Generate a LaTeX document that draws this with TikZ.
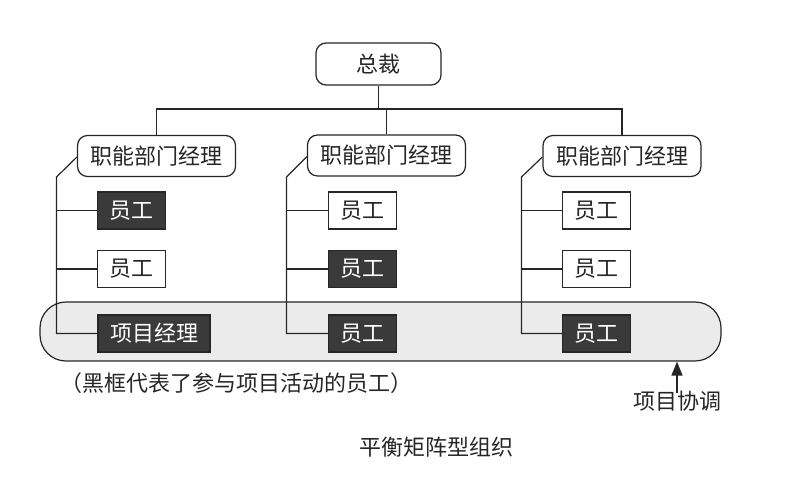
\documentclass[tikz,border=0pt]{standalone}
\usepackage{fontspec}
\setmainfont{Noto Sans CJK SC}
\usetikzlibrary{arrows.meta}
\definecolor{ink}{HTML}{262626}
\definecolor{darkbox}{HTML}{3A3A3A}
\definecolor{bandfill}{HTML}{EBEBEB}
\begin{document}
\begin{tikzpicture}[x=1pt,y=-1pt,line width=1.2pt,draw=ink,
  font=\fontsize{22}{26}\selectfont,
  topbox/.style={draw=ink,fill=white,rounded corners=10pt,minimum width=125pt,minimum height=42pt,inner sep=0pt,text=ink},
  mgr/.style={draw=ink,fill=white,rounded corners=10pt,minimum width=158pt,minimum height=41pt,inner sep=0pt,text=ink},
  staffw/.style={draw=ink,fill=white,minimum width=68pt,minimum height=37pt,inner sep=0pt,text=ink},
  staffd/.style={draw=ink,fill=darkbox,minimum width=68pt,minimum height=37pt,inner sep=0pt,text=white},
  link/.style={draw=ink,line width=1.2pt},
  lbl/.style={text=ink,inner sep=0pt}]
\useasboundingbox (0,0) rectangle (808,493);
% project band
\node (band) [draw=ink,fill=bandfill,rounded corners=26pt,minimum width=681pt,minimum height=59pt,inner sep=0pt] at (380.5,331.5) {};
% top
\node (ceo) [topbox] at (378.5,64) {总裁};
\node (m1) [mgr] at (156.5,156) {职能部门经理};
\node (m2) [mgr] at (386.5,155.5) {职能部门经理};
\node (m3) [mgr] at (622,156) {职能部门经理};
\coordinate (hb) at (378.5,109);
\draw[link] (ceo.south) -- (hb);
\draw[link] (m1.north) |- (hb) -| (m3.north);
\draw[link] (m2.north) -- (m2.north |- hb);
% column 1
\node (s11) [staffd] at (131.5,210.5) {员工};
\node (s12) [staffw] at (131.5,269) {员工};
\node (s13) [staffd,minimum width=112pt] at (154,333.5) {项目经理};
\coordinate (c1a) at (56.5,177);
\coordinate (c1b) at (56.5,333.5);
\draw[link] (m1.west) ++(0,1) -- (c1a) -- (c1b) -- (s13.west);
\draw[link] (s11.west) -- (s11.west -| c1a);
\draw[link] (s12.west) -- (s12.west -| c1a);
% column 2
\node (s21) [staffw] at (362.5,210.5) {员工};
\node (s22) [staffd] at (362.5,269) {员工};
\node (s23) [staffd] at (362.5,333.5) {员工};
\coordinate (c2a) at (286.5,177);
\coordinate (c2b) at (286.5,333.5);
\draw[link] (m2.west) ++(0,1) -- (c2a) -- (c2b) -- (s23.west);
\draw[link] (s21.west) -- (s21.west -| c2a);
\draw[link] (s22.west) -- (s22.west -| c2a);
% column 3
\node (s31) [staffw] at (596.5,210.5) {员工};
\node (s32) [staffw] at (596.5,269) {员工};
\node (s33) [staffd] at (596.5,333.5) {员工};
\coordinate (c3a) at (521.5,177);
\coordinate (c3b) at (521.5,333.5);
\draw[link] (m3.west) ++(0,1) -- (c3a) -- (c3b) -- (s33.west);
\draw[link] (s31.west) -- (s31.west -| c3a);
\draw[link] (s32.west) -- (s32.west -| c3a);
% labels
\node (note) [lbl] at (236,383) {（黑框代表了参与项目活动的员工）};
\node (coord) [lbl] at (677,401.5) {项目协调};
\draw[ink,line width=1.4pt,-{Triangle[length=14pt,width=11pt]}] (coord.north) ++(0,2) -- (coord.north |- band.south);
\node (title) [lbl] at (436,447) {平衡矩阵型组织};
\end{tikzpicture}
\end{document}
